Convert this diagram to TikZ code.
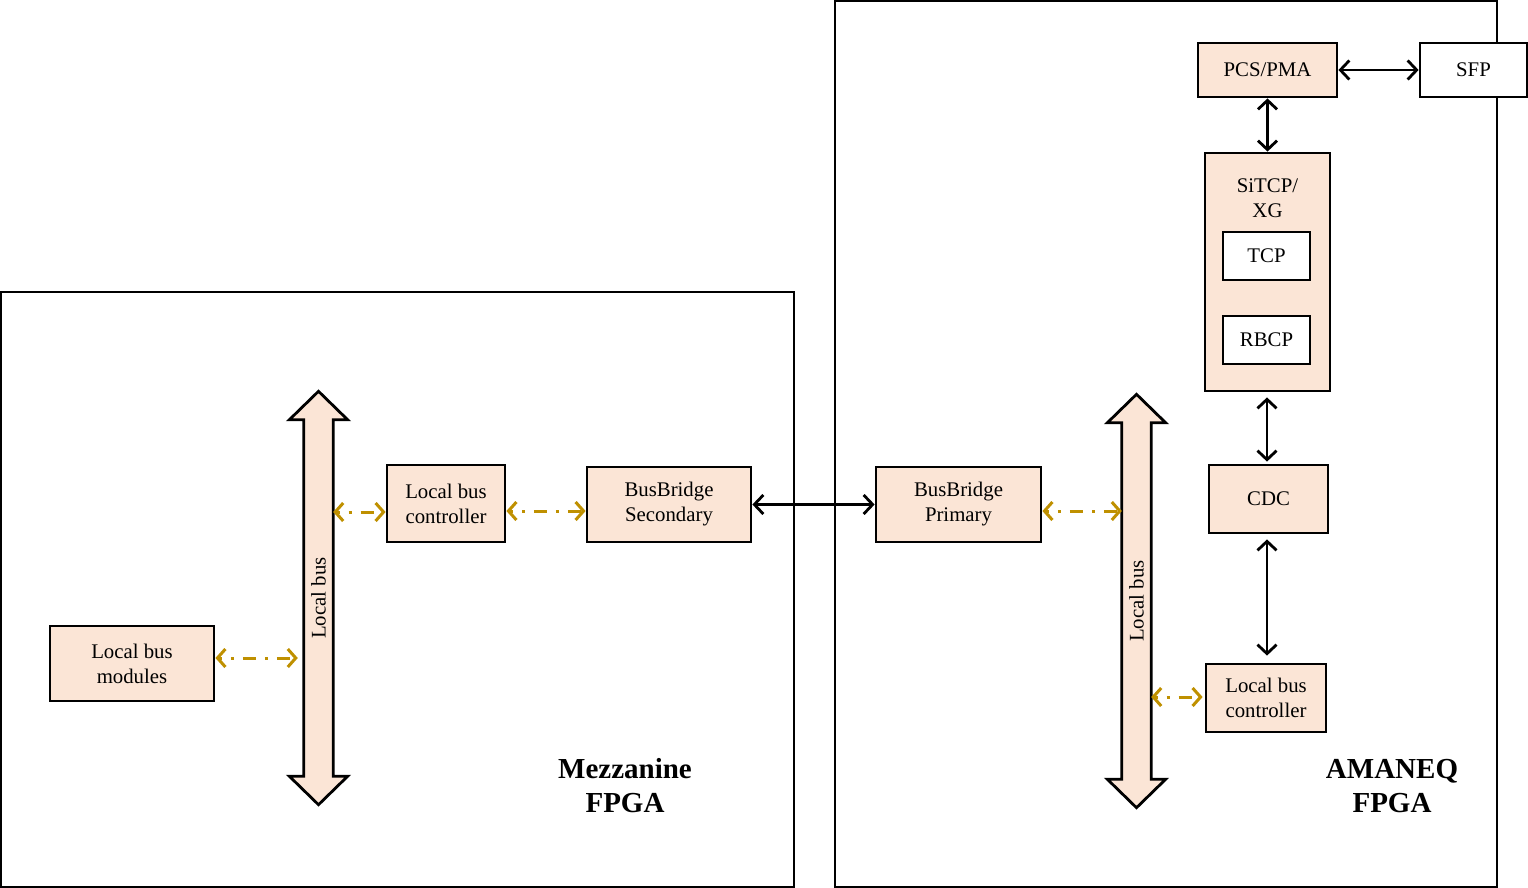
\documentclass[tikz,border=0pt]{standalone}
\usepackage{fontspec}
\setmainfont{Liberation Serif}
\usetikzlibrary{arrows.meta,calc,backgrounds}
\definecolor{peach}{HTML}{FBE5D6}
\definecolor{gold}{HTML}{BF9000}
\begin{document}
\begin{tikzpicture}[x=1pt,y=-1pt,
  every node/.style={font=\fontsize{20.8}{25}\selectfont, align=center, inner sep=0pt},
  blk/.style={draw, line width=2.8pt, fill=peach},
  wblk/.style={draw, line width=2.8pt, fill=white},
  sub/.style={draw, line width=2pt, fill=white},
  outer/.style={draw, line width=1.6pt},
  title/.style={font=\fontsize{29}{34}\selectfont\bfseries},
  bus/.style={inner sep=0pt, minimum width=29pt, minimum height=356pt},
  busshape/.style={draw, line width=2.8pt, fill=peach, line join=miter},
  blk2/.style={line width=2.8pt, {Straight Barb[length=9pt,width=19pt]}-{Straight Barb[length=9pt,width=19pt]}},
  gld/.style={gold, line width=3pt, dash pattern=on 3pt off 9pt on 13pt off 9pt, dash phase=-12pt,
    {Straight Barb[length=8pt,width=18pt]}-{Straight Barb[length=8pt,width=18pt]}}
]
\useasboundingbox (0,0) rectangle (1528,888);

% outer frames
\node[outer, minimum width=793pt, minimum height=595pt] (mezz) at (397.5,589.5) {};
\node[outer, minimum width=662pt, minimum height=886pt] (amaneq) at (1166,444) {};
\node[title] (mezzlbl) at (625,786) {Mezzanine\\FPGA};
\node[title] (amlbl) at (1392,786) {AMANEQ\\FPGA};

% blocks
\node[blk, minimum width=139pt, minimum height=54pt] (pcs) at (1267.5,70) {PCS/PMA};
\node[wblk, minimum width=107pt, minimum height=54pt] (sfp) at (1473.5,70) {SFP};
\node[blk, minimum width=125pt, minimum height=238pt] (sitcp) at (1267.5,272) {};
\node (sitcplbl) at (1267.5,198) {SiTCP/\\XG};
\node[sub, minimum width=87pt, minimum height=48pt] (tcp) at (1266.5,256) {TCP};
\node[sub, minimum width=87pt, minimum height=48pt] (rbcp) at (1266.5,340) {RBCP};
\node[blk, minimum width=119pt, minimum height=68pt] (cdc) at (1268.5,499) {CDC};
\node[blk, minimum width=120pt, minimum height=68pt] (lbcr) at (1266,698) {Local bus\\controller};
\node[blk, minimum width=165pt, minimum height=75pt] (bbp) at (958.5,504.5) {BusBridge\\Primary};
\node[blk, minimum width=164pt, minimum height=75pt] (bbs) at (669,504.5) {BusBridge\\Secondary};
\node[blk, minimum width=118pt, minimum height=77pt] (lbcl) at (446,503.5) {Local bus\\controller};
\node[blk, minimum width=164pt, minimum height=75pt] (lbm) at (132,663.5) {Local bus\\modules};

% buses
\node[bus] (busl) at (318.5,598) {};
\node[bus] (busr) at (1136.5,601) {};
\begin{scope}[on background layer]
\foreach \b in {busl,busr}{
  \draw[busshape] (\b.north west) -- ++(-14.5,0) -- ($(\b.north)+(0,-28.5)$) -- ($(\b.north east)+(14.5,0)$)
    -- (\b.north east) -- (\b.south east) -- ++(14.5,0) -- ($(\b.south)+(0,28.5)$)
    -- ($(\b.south west)+(-14.5,0)$) -- (\b.south west) -- cycle;
}
\end{scope}
\node[rotate=90] (buslbl) at (busl) {Local bus};
\node[rotate=90] (busrlbl) at (busr) {Local bus};

% black connectors
\draw[blk2] (pcs.east) -- (sfp.west);
\draw[blk2] (pcs.south) -- (sitcp.north);
\draw[blk2, shorten <=5pt, shorten >=2pt] (sitcp.south -| 1267,0) -- (cdc.north -| 1267,0);
\draw[blk2, shorten <=5pt, shorten >=7pt] (cdc.south -| 1267,0) -- (lbcr.north -| 1267,0);
\draw[blk2] (bbs.east) -- (bbp.west);

% gold connectors
\draw[gld] (busl.east |- 0,512) -- (lbcl.west |- 0,512);
\draw[gld] (lbcl.east |- 0,511) -- (bbs.west |- 0,511);
\draw[gld, shorten >=6pt] (lbm.east |- 0,658) -- (busl.west |- 0,658);
\draw[gld] (bbp.east |- 0,511) -- (busr.west |- 0,511);
\draw[gld, shorten >=2pt] (busr.east |- 0,697) -- (lbcr.west |- 0,697);
\end{tikzpicture}
\end{document}
